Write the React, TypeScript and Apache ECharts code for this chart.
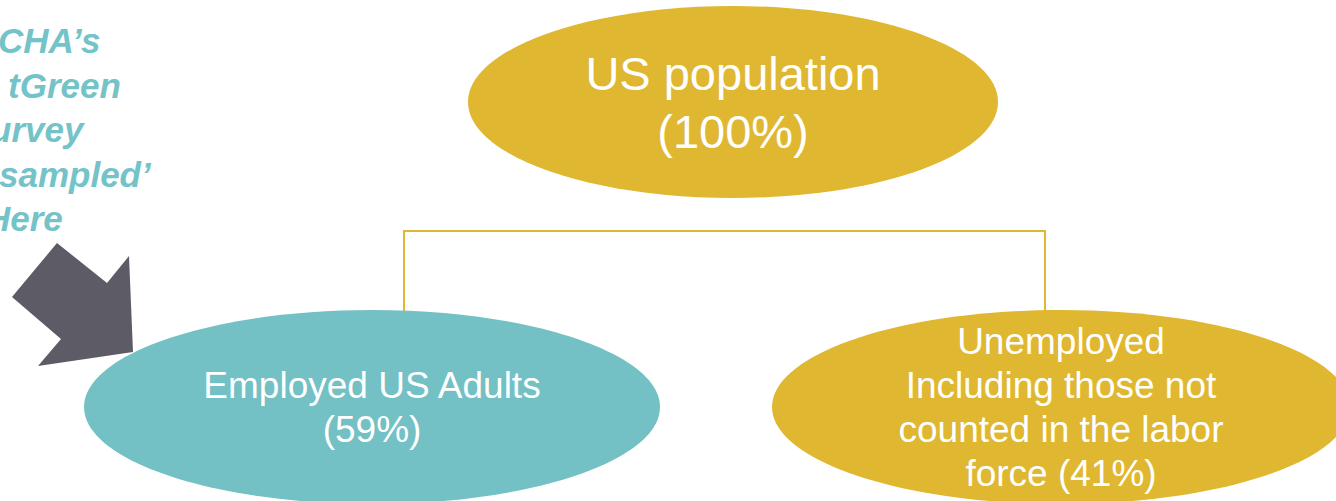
import React, { useEffect, useRef } from "react";
import * as echarts from "echarts";

const nodeTitles = [
  "US population",
  "Employed US Adults",
  "Unemployed\nIncluding those not\ncounted in the labor\nforce",
];
const nodeShares = [100, 59, 41];
const noteLines = ["CHA’s", "tGreen", "urvey", "sampled’", "Here"];

const GOLD = "#e0b730";
const TEAL = "#73c0c5";
const NOTE = "#74c3c8";
const ARROW = "#5d5b66";
const FONT = "Arial";

export default function App() {
  const ref = useRef<HTMLDivElement>(null);
  useEffect(() => {
    document.body.style.margin = "0";
    if (!ref.current) return;
    const chart = echarts.init(ref.current, null, { renderer: "svg" });

    const labels = nodeTitles.map((t, i) => {
      const sep = i === 2 ? " " : "\n";
      return `${t}${sep}(${nodeShares[i]}%)`;
    });

    const nodes = [
      { cx: 733, cy: 102, rx: 265, ry: 96, fill: GOLD, fs: 47, lh: 58 },
      { cx: 372, cy: 407, rx: 288, ry: 97, fill: TEAL, fs: 37, lh: 44 },
      { cx: 1061, cy: 407, rx: 289, ry: 97, fill: GOLD, fs: 37, lh: 44 },
    ];

    const noteX = [-2, 8, -10, -1, -15];
    const noteBase = [52, 97, 141, 186, 230];

    const elements: any[] = [];
    elements.push({
      type: "polyline",
      z: 1,
      shape: {
        points: [
          [404, 312],
          [404, 231],
          [1045, 231],
          [1045, 312],
        ],
      },
      style: { stroke: GOLD, lineWidth: 2, fill: null },
    });
    nodes.forEach((n, i) => {
      elements.push({
        type: "ellipse",
        z: 2,
        shape: { cx: n.cx, cy: n.cy, rx: n.rx, ry: n.ry },
        style: { fill: n.fill },
      });
      elements.push({
        type: "text",
        z: 3,
        x: n.cx,
        y: n.cy,
        style: {
          text: labels[i],
          fill: "#ffffff",
          fontSize: n.fs,
          fontFamily: FONT,
          align: "center",
          verticalAlign: "middle",
          lineHeight: n.lh,
        },
      });
    });
    elements.push({
      type: "polygon",
      z: 4,
      shape: {
        points: [
          [57, 243],
          [107, 283],
          [129, 256],
          [133, 352],
          [38, 366],
          [61, 339],
          [12, 297],
        ],
      },
      style: { fill: ARROW },
    });
    noteLines.forEach((t, i) => {
      elements.push({
        type: "text",
        z: 5,
        x: noteX[i],
        y: noteBase[i] - 12,
        style: {
          text: t,
          fill: NOTE,
          fontSize: 35,
          fontWeight: "bold",
          fontStyle: "italic",
          fontFamily: FONT,
          align: "left",
          verticalAlign: "middle",
        },
      });
    });

    chart.setOption({
      animation: false,
      backgroundColor: "#ffffff",
      graphic: { elements },
    });
    return () => chart.dispose();
  }, []);
  return <div ref={ref} style={{ width: 1336, height: 501 }} />;
}
